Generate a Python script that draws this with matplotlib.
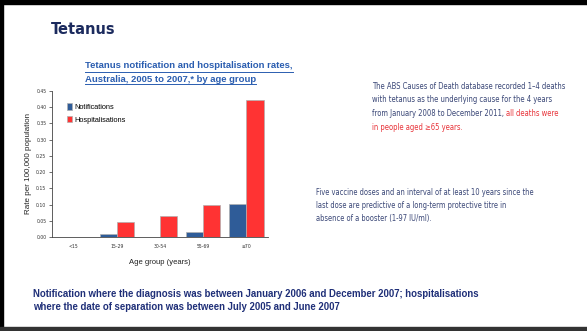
import numpy as np
import matplotlib
matplotlib.use("Agg")
import matplotlib.pyplot as plt
from matplotlib import font_manager as fm
from matplotlib.patches import Rectangle
from matplotlib.lines import Line2D

# chart data
age_groups = ["<15", "15-29", "30-54", "55-69", "\u226570"]
notifications = [0.0, 0.010, 0.0, 0.015, 0.103]
hospitalisations = [0.0, 0.046, 0.066, 0.100, 0.423]
y_ticks = [0.00, 0.05, 0.10, 0.15, 0.20, 0.25, 0.30, 0.35, 0.40, 0.45]

W, H = 587, 331
fig = plt.figure(figsize=(W / 100, H / 100), dpi=100)
fig.patch.set_facecolor("white")


def px(x, y):
    # pixel coords (top-left origin) to figure fraction
    return x / W, 1 - y / H


def narrow_font(bold):
    # look for a condensed / narrow face among the installed fonts
    files = [f.fname for f in fm.fontManager.ttflist]
    for key in ["LiberationSansNarrow", "DejaVuSansCondensed"]:
        for fn in sorted(files):
            base = fn.split("/")[-1]
            if not base.startswith(key):
                continue
            if "Italic" in base or "Oblique" in base:
                continue
            if ("Bold" in base) == bold:
                return fm.FontProperties(fname=fn)
    return fm.FontProperties(family="Liberation Sans",
                             weight="bold" if bold else "normal")


def fit_size(s, prop, target_px, renderer):
    t = fig.text(0, 0, s, fontproperties=prop, fontsize=10)
    wpx = t.get_window_extent(renderer).width
    t.remove()
    return 10 * target_px / wpx


nar = narrow_font(False)
nar_b = narrow_font(True)

# slide frame
fig.add_artist(Rectangle((0, 1 - 4 / H), 1, 4 / H, transform=fig.transFigure, color="black"))
fig.add_artist(Rectangle((0, 0), 3 / W, 1, transform=fig.transFigure, color="black"))
fig.add_artist(Rectangle((0, 0), 1, 4 / H, transform=fig.transFigure, color="#333333"))

fig.canvas.draw()
renderer = fig.canvas.get_renderer()

navy = "#1c2b5e"
txt_blue = "#3a4777"

hs = min(fit_size("Tetanus", nar_b, 64, renderer), 15)
fig.text(*px(51, 30), "Tetanus", fontproperties=nar_b, fontsize=hs, color=navy,
         va="center", ha="left")

# chart title, underlined
title_blue = "#2a5db0"
for i, line in enumerate(["Tetanus notification and hospitalisation rates,",
                          "Australia, 2005 to 2007,* by age group"]):
    t = fig.text(*px(85, 66 + i * 13), line, fontsize=6.8, fontweight="bold",
                 color=title_blue, va="center", ha="left", family="Liberation Sans")
    bb = t.get_window_extent(renderer)
    yy = 1 - (66 + i * 13 + 5.5) / H
    fig.add_artist(Line2D([bb.x0 / W, bb.x1 / W], [yy, yy], transform=fig.transFigure,
                          color=title_blue, linewidth=0.7))

# axes
x0, x1, ytop, ybot = 52, 268, 91, 237
ax = fig.add_axes([x0 / W, 1 - ybot / H, (x1 - x0) / W, (ybot - ytop) / H])
x = np.arange(len(age_groups))
w = 0.4
ax.bar(x - w / 2, notifications, w, color="#2f5c98", edgecolor="#b0b0b0", linewidth=0.5,
       label="Notifications")
ax.bar(x + w / 2, hospitalisations, w, color="#ff3333", edgecolor="#b0b0b0", linewidth=0.5,
       label="Hospitalisations")
ax.set_xlim(-0.5, len(age_groups) - 0.5)
ax.set_ylim(0, 0.45)
ax.set_yticks(y_ticks)
ax.set_yticklabels([f"{v:.2f}" for v in y_ticks])
ax.set_xticks(x)
ax.set_xticklabels(age_groups)
ax.tick_params(axis="both", labelsize=3.3, length=2, width=0.5, colors="#333333", pad=2)
ax.tick_params(axis="x", length=0, pad=5)
for s in ["top", "right"]:
    ax.spines[s].set_visible(False)
for s in ["left", "bottom"]:
    ax.spines[s].set_linewidth(0.6)
    ax.spines[s].set_color("#444444")
ax.set_ylabel("Rate per 100,000 population", fontsize=5.8, color="#222222", labelpad=3,
              family="Liberation Sans")
ax.set_xlabel("Age group (years)", fontsize=5.5, color="#222222", labelpad=7,
              family="Liberation Sans")
ax.legend(loc="upper left", bbox_to_anchor=(0.04, 0.96), frameon=False,
          handlelength=0.7, handleheight=0.9, handletextpad=0.25, labelspacing=0.7,
          prop={"family": "Liberation Sans", "size": 5.3})

# right-hand text
red = "#e8343a"
lines1 = [
    [("The ABS Causes of Death database recorded 1\u20134 deaths", txt_blue)],
    [("with tetanus as the underlying cause for the 4 years", txt_blue)],
    [("from January 2008 to December 2011, ", txt_blue), ("all deaths were", red)],
    [("in people aged \u226565 years.", red)],
]
fs1 = fit_size(lines1[0][0][0], nar, 195, renderer)
for i, parts in enumerate(lines1):
    xx = 372
    for s, c in parts:
        t = fig.text(*px(xx, 86 + i * 13.7), s, fontproperties=nar, fontsize=fs1,
                     color=c, va="center", ha="left")
        bb = t.get_window_extent(renderer)
        xx += bb.width
lines2 = [
    "Five vaccine doses and an interval of at least 10 years since the",
    "last dose are predictive of a long-term protective titre in",
    "absence of a booster (1-97 IU/ml).",
]
fs2 = fit_size(lines2[0], nar, 219, renderer)
for i, s in enumerate(lines2):
    fig.text(*px(316, 192 + i * 13.5), s, fontproperties=nar, fontsize=fs2,
             color=txt_blue, va="center", ha="left")

# footnote
foot = ["Notification where the diagnosis was between January 2006 and December 2007; hospitalisations",
        "where the date of separation was between July 2005 and June 2007"]
for i, s in enumerate(foot):
    fig.text(*px(33, 294 + i * 13), s, fontsize=6.9, fontweight="bold", color="#1f2f78",
             va="center", ha="left", family="Liberation Sans")

fig.savefig("out.png", dpi=100, facecolor="white")
